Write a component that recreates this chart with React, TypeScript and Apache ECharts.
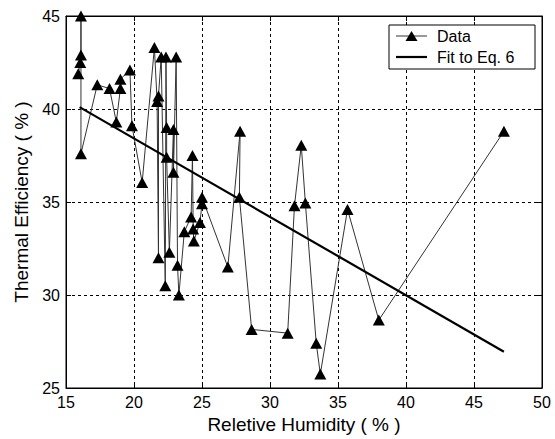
import React, { useEffect, useRef } from "react";
import * as echarts from "echarts";

const humidity = [15.9, 16.05, 16.1, 16.1, 16.1, 17.3, 18.2, 18.7, 19.0, 19.0, 19.7, 19.85, 20.6,
  21.5, 21.7, 21.8, 21.8, 22.0, 22.3, 22.35, 22.4, 22.4, 22.6, 22.9, 22.9, 23.1, 23.2, 23.3,
  23.7, 24.2, 24.3, 24.35, 24.4, 24.85, 25.0, 25.0, 26.9, 27.8, 27.75, 28.65, 31.3, 31.8,
  32.3, 32.6, 33.4, 33.7, 35.7, 38.0, 47.2];
const efficiency = [41.9, 42.5, 42.9, 45.0, 37.6, 41.3, 41.1, 39.3, 41.1, 41.6, 42.1, 39.1, 36.05,
  43.3, 40.4, 32.0, 40.7, 42.8, 30.5, 42.8, 39.0, 37.4, 32.3, 38.9, 36.6, 42.8, 31.6, 30.0,
  33.4, 34.2, 37.5, 33.55, 32.9, 33.9, 34.9, 35.25, 31.5, 38.8, 35.25, 28.15, 27.95, 34.8,
  38.05, 34.95, 27.4, 25.75, 34.6, 28.65, 38.8];
const fitX = [16.0, 47.2];
const fitY = [40.1, 26.95];
const xTicks = [15, 50, 5];
const yTicks = [25, 45, 5];
const legendLabels = ["Data", "Fit to Eq. 6"];

const FONT = "Liberation Sans, Arial, sans-serif";

export default function App() {
  const ref = useRef<HTMLDivElement>(null);
  useEffect(() => {
    if (!ref.current) return;
    const chart = echarts.init(ref.current, null, { renderer: "svg" });
    const dash = { color: "#000", type: [3, 3] as any, width: 1 };
    const baseX = {
      type: "value", min: xTicks[0], max: xTicks[1], interval: xTicks[2],
      axisLine: { show: true, onZero: false, lineStyle: { color: "#000", width: 1 } },
      axisTick: { show: true, inside: true, length: 5, lineStyle: { color: "#000" } },
    };
    const baseY = {
      type: "value", min: yTicks[0], max: yTicks[1], interval: yTicks[2],
      axisLine: { show: true, onZero: false, lineStyle: { color: "#000", width: 1 } },
      axisTick: { show: true, inside: true, length: 5, lineStyle: { color: "#000" } },
    };
    const lx = 389, ly = 25, lw = 146, lh = 44;
    chart.setOption({
      animation: false,
      backgroundColor: "#fff",
      grid: { left: 66, right: 13, top: 16, bottom: 49, show: true, borderColor: "#000", borderWidth: 1 },
      xAxis: [
        {
          ...baseX, position: "bottom",
          name: "Reletive Humidity ( % )", nameLocation: "middle", nameGap: 27,
          nameTextStyle: { fontFamily: FONT, fontSize: 19, color: "#000" },
          axisLabel: { fontFamily: FONT, fontSize: 16, color: "#000", margin: 6 },
          splitLine: { show: true, lineStyle: dash },
        },
        { ...baseX, position: "top", axisLabel: { show: false }, splitLine: { show: false } },
      ],
      yAxis: [
        {
          ...baseY, position: "left",
          name: "Thermal Efficiency ( % )", nameLocation: "middle", nameGap: 34, nameRotate: 90,
          nameTextStyle: { fontFamily: FONT, fontSize: 19, color: "#000" },
          axisLabel: { fontFamily: FONT, fontSize: 16, color: "#000", margin: 6 },
          splitLine: { show: true, lineStyle: dash },
        },
        { ...baseY, position: "right", axisLabel: { show: false }, splitLine: { show: false } },
      ],
      graphic: [
        { type: "rect", shape: { x: lx, y: ly, width: lw, height: lh }, style: { fill: "#fff", stroke: "#000", lineWidth: 1 }, z: 10 },
        { type: "line", shape: { x1: lx + 7, y1: ly + 11, x2: lx + 38, y2: ly + 11 }, style: { stroke: "#333", lineWidth: 1 }, z: 11 },
        { type: "polygon", shape: { points: [[lx + 22.5, ly + 6], [lx + 28.5, ly + 16], [lx + 16.5, ly + 16]] }, style: { fill: "#000" }, z: 11 },
        { type: "line", shape: { x1: lx + 7, y1: ly + 32, x2: lx + 38, y2: ly + 32 }, style: { stroke: "#000", lineWidth: 2.2 }, z: 11 },
        { type: "text", x: lx + 48, y: ly + 11, style: { text: legendLabels[0], font: `16px ${FONT}`, fill: "#000", verticalAlign: "middle" }, z: 11 },
        { type: "text", x: lx + 48, y: ly + 32, style: { text: legendLabels[1], font: `16px ${FONT}`, fill: "#000", verticalAlign: "middle" }, z: 11 },
      ],
      series: [
        {
          name: "Data", type: "line",
          data: humidity.map((h, i) => [h, efficiency[i]]),
          symbol: "triangle", symbolSize: [12, 11],
          itemStyle: { color: "#000" },
          lineStyle: { color: "#333", width: 1 },
          z: 3,
        },
        {
          name: "Fit to Eq. 6", type: "line",
          data: fitX.map((x, i) => [x, fitY[i]]),
          symbol: "none",
          lineStyle: { color: "#000", width: 2.2 },
          itemStyle: { color: "#000" },
          z: 4,
        },
      ],
    });
    return () => chart.dispose();
  }, []);
  return <div ref={ref} style={{ position: "fixed", left: 0, top: 0, width: 555, height: 439 }} />;
}
